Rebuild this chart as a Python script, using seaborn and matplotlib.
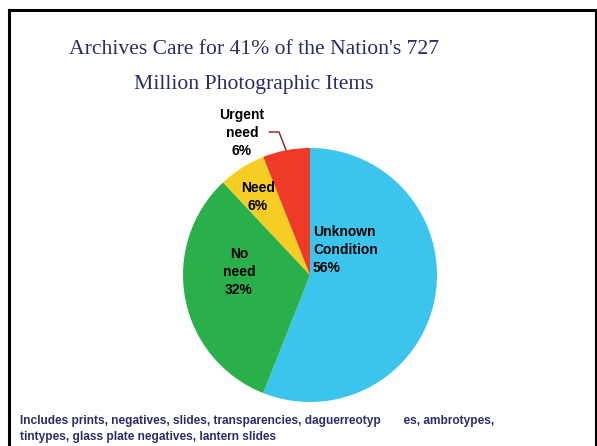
import matplotlib
matplotlib.use("Agg")
import matplotlib.pyplot as plt
from matplotlib.lines import Line2D
import seaborn as sns

# Condition of photographic holdings (share of items, %)
categories = ["Unknown\nCondition", "No\nneed", "Need", "Urgent\nneed"]
shares = [56, 32, 6, 6]
colors = ["#3CC5EC", "#2AB04B", "#F6CD25", "#EE3B27"]

title_lines = ["Archives Care for 41% of the Nation's 727", "Million Photographic Items"]
footnote_lines = [
    "Includes prints, negatives, slides, transparencies, daguerreotyp       es, ambrotypes,",
    "tintypes, glass plate negatives, lantern slides",
]

sns.set_theme(style="white")
plt.rcParams["font.family"] = ["Liberation Sans", "DejaVu Sans"]

W, H = 597, 446
fig = plt.figure(figsize=(W / 100, H / 100), dpi=100)
fig.patch.set_facecolor("white")


def px(x, y):
    return x / W, 1 - y / H


# pie axes: centre (310, 275) px, radius 127 px
cx, cy, r = 310, 275, 127
ax = fig.add_axes([(cx - r) / W, (H - cy - r) / H, 2 * r / W, 2 * r / H])
ax.pie(shares, colors=colors, startangle=90, counterclock=False, radius=1,
       wedgeprops=dict(linewidth=0))
ax.set_xlim(-1, 1)
ax.set_ylim(-1, 1)
ax.set_axis_off()

# slide frame (open at the bottom)
frame_color = "black"
for (x0, y0), (x1, y1) in [((8.5, 460), (8.5, 10)), ((8.5, 10), (595.5, 10)),
                           ((595.5, 10), (595.5, 460))]:
    a, b = px(x0, y0)
    c, d = px(x1, y1)
    fig.add_artist(Line2D([a, c], [b, d], color=frame_color, lw=2.2,
                          transform=fig.transFigure, solid_capstyle="projecting"))

# title
navy = "#2B2D6B"
for i, line in enumerate(title_lines):
    fig.text(*px(254, 50 + 35 * i), line, ha="center", va="center",
             fontsize=15.6, color=navy, family=["Liberation Serif", "DejaVu Serif"])

# slice labels
label_style = dict(fontsize=10, fontweight="bold", color="black", linespacing=1.4)
label_pos = [((313, 250), "left"), ((239, 272), "center"), ((258, 197), "center"),
             ((242, 133), "center")]
for name, val, ((x, y), ha) in zip(categories, shares, label_pos):
    fig.text(*px(x, y), f"{name}\n{val}%", ha=ha, va="center", **label_style)

# leader line for the small red slice
pts = [px(269, 132), px(279, 132), px(286, 150)]
fig.add_artist(Line2D([p[0] for p in pts], [p[1] for p in pts], color="#8B1A1A",
                      lw=1.0, transform=fig.transFigure))

# footnote
for i, line in enumerate(footnote_lines):
    fig.text(*px(20, 421 + 16 * i), line, ha="left", va="center",
             fontsize=8.6, fontweight="bold", color=navy)

fig.savefig("out.png", dpi=100, facecolor="white")
